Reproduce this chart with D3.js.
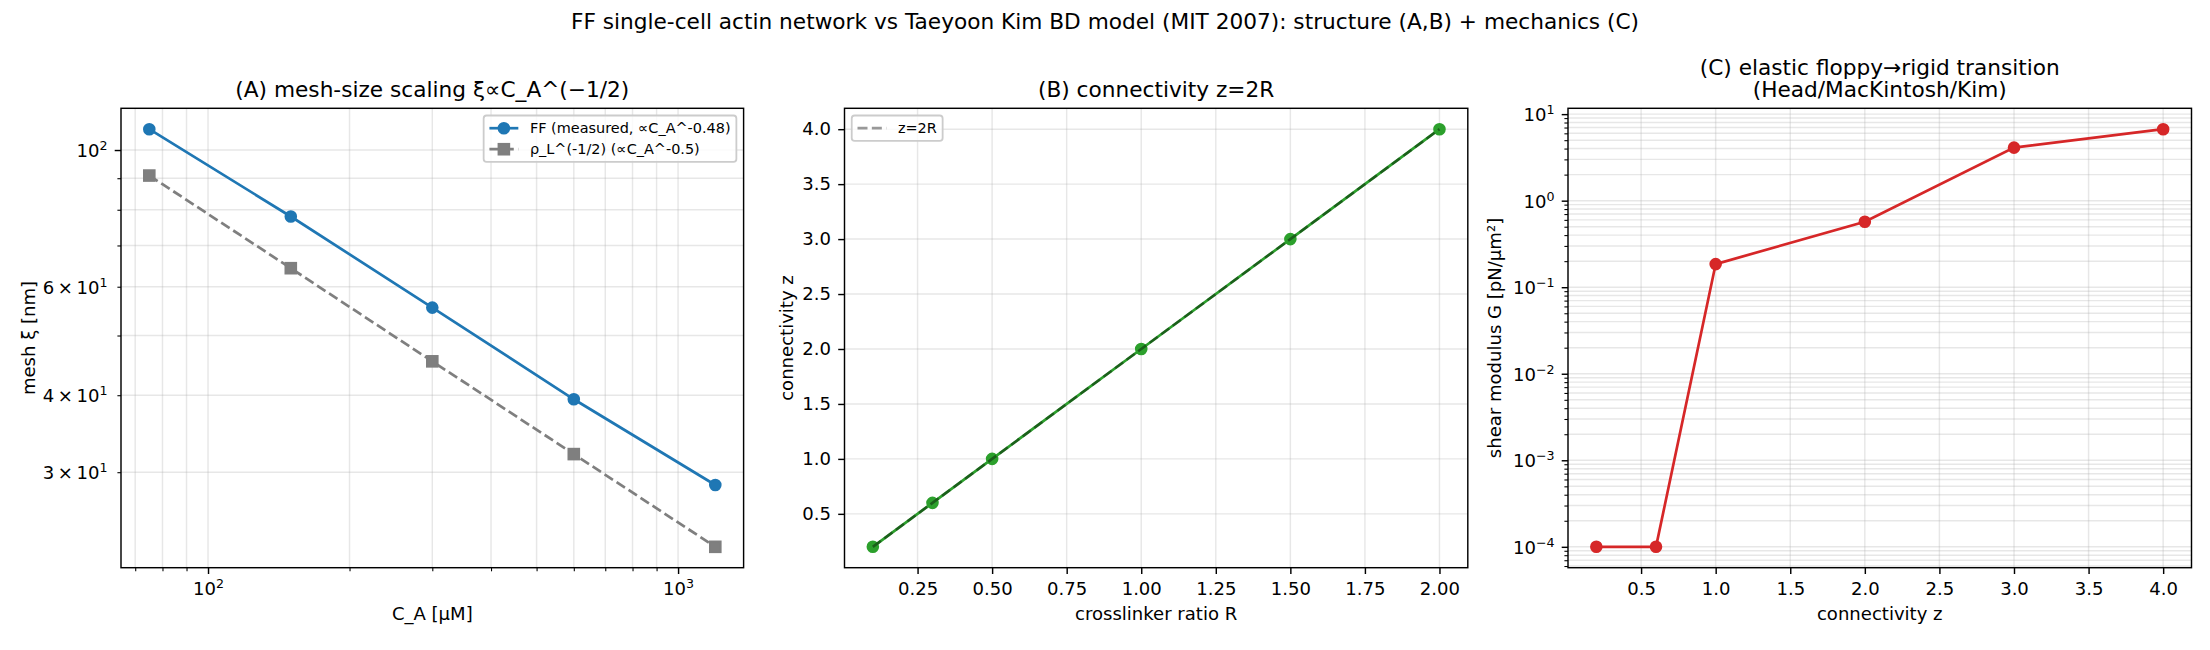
<!DOCTYPE html>
<html><head><meta charset="utf-8">
<script src="https://cdn.jsdelivr.net/npm/d3@7"></script>
<style>
body{margin:0;background:#fff;}
svg{font-family:"DejaVu Sans",sans-serif;}
</style></head><body>
<svg id="c" width="2210" height="650" xmlns="http://www.w3.org/2000/svg"></svg>
<script>
// ---------------- data ----------------
const CA_uM   = [75, 150, 300, 600, 1200];
const xi_FF   = [108.1, 78.0, 55.5, 39.4, 28.6];
const xi_rho  = [90.9, 64.3, 45.4, 32.1, 22.7];
const R_ratio = [0.1, 0.3, 0.5, 1.0, 1.5, 2.0];
const z_B     = [0.2, 0.6, 1.0, 2.0, 3.0, 4.0];
const z_C     = [0.2, 0.6, 1.0, 2.0, 3.0, 4.0];
const G_shear = [1e-4, 1e-4, 0.185, 0.57, 4.1, 6.7];

// tick values
const A_xMajor = [100, 1000];
const A_xMinor = [70, 80, 90, 200, 300, 400, 500, 600, 700, 800, 900];
const A_yMajor = [100];
const A_yMinor = [30, 40, 50, 60, 70, 80, 90];
const A_yMinorLabeled = [30, 40, 60];
const B_xTicks = [0.25, 0.5, 0.75, 1.0, 1.25, 1.5, 1.75, 2.0];
const B_yTicks = [0.5, 1.0, 1.5, 2.0, 2.5, 3.0, 3.5, 4.0];
const C_xTicks = [0.5, 1.0, 1.5, 2.0, 2.5, 3.0, 3.5, 4.0];
const C_yMajor = [1e-4, 1e-3, 1e-2, 1e-1, 1e0, 1e1];
const C_decades = [-5, -4, -3, -2, -1, 0, 1];
const minorMult = [2, 3, 4, 5, 6, 7, 8, 9];

// text
const supTitle = "FF single-cell actin network vs Taeyoon Kim BD model (MIT 2007): structure (A,B) + mechanics (C)";
const titleA = ["(A) mesh-size scaling ξ∝C_A^(\u22121/2)"];
const titleB = ["(B) connectivity z=2R"];
const titleC = ["(C) elastic floppy\u2192rigid transition", "(Head/MacKintosh/Kim)"];
const legA = ["FF (measured, ∝C_A^-0.48)", "ρ_L^(-1/2) (∝C_A^-0.5)"];
const legB = ["z=2R"];

// ---------------- style ----------------
const FS_TICK = 18.06, FS_LAB = 18.06, FS_TITLE = 21.67, FS_LEG = 14.44;
const TOP = 108.3, BOT = 567.7;
const C0 = "#1f77b4", C7 = "#7f7f7f", C2 = "#2ca02c", C3 = "#d62728";
const LW = 2.7, MR = 5.4, MEW = 1.8, DASH = "10,4.33";
const GRID = "#b0b0b0", GRID_OP = 0.3;

const svg = d3.select("#c");

function logPad(vals){ const l = vals.map(Math.log10); const mn = d3.min(l), mx = d3.max(l), m = 0.05*(mx-mn); return [10**(mn-m), 10**(mx+m)]; }
function linPad(vals){ const mn = d3.min(vals), mx = d3.max(vals), m = 0.05*(mx-mn); return [mn-m, mx+m]; }

function sci(sel, mant, exp){
  sel.text(null);
  if (mant !== 1) sel.append("tspan").text(mant + "\u2009×\u2009");
  sel.append("tspan").text("10");
  sel.append("tspan").attr("font-size", "0.7em").attr("dy", "-0.55em").text(exp < 0 ? "\u2212" + (-exp) : String(exp));
}
function decomp(v){ const e = Math.floor(Math.log10(v) + 1e-9); const m = Math.round(v / 10**e); return [m, e]; }

function grid(g, x, y, xs, ys){
  const gg = g.append("g");
  gg.selectAll(".gx").data(xs).join("line")
    .attr("x1", d => x(d)).attr("x2", d => x(d)).attr("y1", y.range()[0]).attr("y2", y.range()[1])
    .attr("stroke", GRID).attr("stroke-opacity", GRID_OP).attr("stroke-width", 1.44);
  gg.selectAll(".gy").data(ys).join("line")
    .attr("y1", d => y(d)).attr("y2", d => y(d)).attr("x1", x.range()[0]).attr("x2", x.range()[1])
    .attr("stroke", GRID).attr("stroke-opacity", GRID_OP).attr("stroke-width", 1.44);
}

function styleAxis(a, w){
  a.select(".domain").remove();
  a.selectAll(".tick line").attr("stroke", "#000").attr("stroke-width", w);
  a.selectAll(".tick text").attr("fill", "#000").attr("font-size", FS_TICK).attr("font-family", "DejaVu Sans");
}

function xAxis(g, x, major, minor, fmt, sciFmt){
  const a = g.append("g").attr("transform", `translate(0,${BOT})`)
    .call(d3.axisBottom(x).tickValues(major).tickSize(6.3).tickPadding(8.2).tickFormat(sciFmt ? (() => "") : fmt));
  styleAxis(a, 1.44);
  if (sciFmt) a.selectAll(".tick text").each(function(d){ const [m,e] = decomp(d); sci(d3.select(this), m, e); });
  if (minor && minor.length){
    const b = g.append("g").attr("transform", `translate(0,${BOT})`)
      .call(d3.axisBottom(x).tickValues(minor).tickSize(3.6).tickFormat(() => ""));
    styleAxis(b, 1.08);
  }
}
function yAxis(g, y, x0, major, minor, fmt, sciFmt, minorLabeled){
  const a = g.append("g").attr("transform", `translate(${x0},0)`)
    .call(d3.axisLeft(y).tickValues(major).tickSize(6.3).tickPadding(7.2).tickFormat(sciFmt ? (() => "") : fmt));
  styleAxis(a, 1.44);
  if (sciFmt) a.selectAll(".tick text").attr("dy", "0.36em").each(function(d){ const [m,e] = decomp(d); sci(d3.select(this), m, e); });
  if (minor && minor.length){
    const b = g.append("g").attr("transform", `translate(${x0},0)`)
      .call(d3.axisLeft(y).tickValues(minor).tickSize(3.6).tickPadding(9.9).tickFormat(() => ""));
    styleAxis(b, 1.08);
    if (minorLabeled) b.selectAll(".tick text").attr("dy", "0.36em").each(function(d){
      if (minorLabeled.includes(d)) { const [m,e] = decomp(d); sci(d3.select(this), m, e); }
    });
  }
}

function frame(g, x0, x1){
  g.append("rect").attr("x", x0).attr("y", TOP).attr("width", x1-x0).attr("height", BOT-TOP)
    .attr("fill", "none").attr("stroke", "#000").attr("stroke-width", 1.44);
}
function titles(g, x0, x1, lines){
  const cx = (x0+x1)/2;
  lines.forEach((t, i) => {
    g.append("text").attr("x", cx).attr("y", 97.3 - (lines.length-1-i)*22.7)
      .attr("text-anchor", "middle").attr("font-size", FS_TITLE).text(t);
  });
}
function xLabel(g, x0, x1, t){
  g.append("text").attr("x", (x0+x1)/2).attr("y", 620).attr("text-anchor", "middle").attr("font-size", FS_LAB).text(t);
}
function yLabel(g, cx, t){
  g.append("text").attr("transform", `translate(${cx},${(TOP+BOT)/2}) rotate(-90)`)
    .attr("text-anchor", "middle").attr("dominant-baseline", "central").attr("font-size", FS_LAB).text(t);
}
function markers(g, pts, color, shape){
  if (shape === "s"){
    g.selectAll(null).data(pts).join("rect")
      .attr("x", d => d[0]-MR).attr("y", d => d[1]-MR).attr("width", 2*MR).attr("height", 2*MR)
      .attr("fill", color).attr("stroke", color).attr("stroke-width", MEW);
  } else {
    g.selectAll(null).data(pts).join("circle")
      .attr("cx", d => d[0]).attr("cy", d => d[1]).attr("r", MR)
      .attr("fill", color).attr("stroke", color).attr("stroke-width", MEW);
  }
}

function legend(g, anchorX, side, entries){
  const pad = 5.78, hl = 28.9, htp = 11.55, ls = 7.22, rh = 13.8;
  const lg = g.append("g");
  const box = lg.append("rect");
  const texts = entries.map(e => lg.append("text").attr("font-size", FS_LEG).text(e.label));
  const tw = d3.max(texts, t => t.node().getComputedTextLength());
  const W = 2*pad + hl + htp + tw, H = 2*pad + entries.length*rh + (entries.length-1)*ls;
  const bx = side === "right" ? anchorX - W : anchorX, by = TOP + 7.22;
  box.attr("x", bx).attr("y", by).attr("width", W).attr("height", H).attr("rx", 2.9)
    .attr("fill", "#fff").attr("fill-opacity", 0.8).attr("stroke", "#cccccc").attr("stroke-width", 1.8);
  entries.forEach((e, i) => {
    const cy = by + pad + rh/2 + i*(rh+ls);
    const hx = bx + pad;
    lg.append("line").attr("x1", hx).attr("x2", hx+hl).attr("y1", cy).attr("y2", cy)
      .attr("stroke", e.color).attr("stroke-width", LW).attr("stroke-opacity", e.op || 1)
      .attr("stroke-dasharray", e.dash || null);
    if (e.marker) markers(lg, [[hx+hl/2, cy]], e.color, e.marker);
    texts[i].attr("x", hx+hl+htp).attr("y", cy + 5.0);
  });
}

// suptitle
svg.append("text").attr("x", 1105).attr("y", 29.4).attr("text-anchor", "middle").attr("font-size", FS_TITLE).text(supTitle);

// ---------------- Panel A ----------------
{
  const x0 = 121, x1 = 743.6;
  const g = svg.append("g");
  const x = d3.scaleLog().domain(logPad(CA_uM)).range([x0, x1]);
  const y = d3.scaleLog().domain(logPad(xi_FF.concat(xi_rho))).range([BOT, TOP]);
  grid(g, x, y, A_xMajor.concat(A_xMinor), A_yMajor.concat(A_yMinor));
  const line = d3.line().x(d => x(d[0])).y(d => y(d[1]));
  const pF = CA_uM.map((c, i) => [c, xi_FF[i]]);
  const pR = CA_uM.map((c, i) => [c, xi_rho[i]]);
  g.append("path").attr("d", line(pF)).attr("fill", "none").attr("stroke", C0).attr("stroke-width", LW);
  markers(g, pF.map(d => [x(d[0]), y(d[1])]), C0, "o");
  g.append("path").attr("d", line(pR)).attr("fill", "none").attr("stroke", C7).attr("stroke-width", LW).attr("stroke-dasharray", DASH);
  markers(g, pR.map(d => [x(d[0]), y(d[1])]), C7, "s");
  frame(g, x0, x1);
  xAxis(g, x, A_xMajor, A_xMinor, null, true);
  yAxis(g, y, x0, A_yMajor, A_yMinor, null, true, A_yMinorLabeled);
  titles(g, x0, x1, titleA);
  xLabel(g, x0, x1, "C_A [μM]");
  yLabel(g, 28, "mesh ξ [nm]");
  legend(g, x1 - 7.22, "right", [
    {label: legA[0], color: C0, marker: "o"},
    {label: legA[1], color: C7, marker: "s", dash: DASH}
  ]);
}

// ---------------- Panel B ----------------
{
  const x0 = 844.5, x1 = 1467.8;
  const g = svg.append("g");
  const x = d3.scaleLinear().domain(linPad(R_ratio)).range([x0, x1]);
  const y = d3.scaleLinear().domain(linPad(z_B)).range([BOT, TOP]);
  grid(g, x, y, B_xTicks, B_yTicks);
  const line = d3.line().x(d => x(d[0])).y(d => y(d[1]));
  const p = R_ratio.map((r, i) => [r, z_B[i]]);
  g.append("path").attr("d", line(p)).attr("fill", "none").attr("stroke", C2).attr("stroke-width", LW);
  markers(g, p.map(d => [x(d[0]), y(d[1])]), C2, "o");
  g.append("path").attr("d", line(p)).attr("fill", "none").attr("stroke", "#000").attr("stroke-opacity", 0.4)
    .attr("stroke-width", LW).attr("stroke-dasharray", DASH);
  frame(g, x0, x1);
  xAxis(g, x, B_xTicks, null, d3.format(".2f"), false);
  yAxis(g, y, x0, B_yTicks, null, d3.format(".1f"), false, null);
  titles(g, x0, x1, titleB);
  xLabel(g, x0, x1, "crosslinker ratio R");
  yLabel(g, 786, "connectivity z");
  legend(g, x0 + 7.22, "left", [{label: legB[0], color: "#000", op: 0.4, dash: DASH}]);
}

// ---------------- Panel C ----------------
{
  const x0 = 1568, x1 = 2191.5;
  const g = svg.append("g");
  const x = d3.scaleLinear().domain(linPad(z_C)).range([x0, x1]);
  const y = d3.scaleLog().domain(logPad(G_shear)).range([BOT, TOP]);
  const dom = y.domain();
  const minors = [];
  C_decades.forEach(e => minorMult.forEach(m => { const v = m * 10**e; if (v >= dom[0] && v <= dom[1]) minors.push(v); }));
  grid(g, x, y, C_xTicks, C_yMajor.concat(minors));
  const line = d3.line().x(d => x(d[0])).y(d => y(d[1]));
  const p = z_C.map((z, i) => [z, G_shear[i]]);
  g.append("path").attr("d", line(p)).attr("fill", "none").attr("stroke", C3).attr("stroke-width", LW);
  markers(g, p.map(d => [x(d[0]), y(d[1])]), C3, "o");
  frame(g, x0, x1);
  xAxis(g, x, C_xTicks, null, d3.format(".1f"), false);
  yAxis(g, y, x0, C_yMajor, minors, null, true, null);
  titles(g, x0, x1, titleC);
  xLabel(g, x0, x1, "connectivity z");
  yLabel(g, 1494, "shear modulus G [pN/μm²]");
}
</script>
</body></html>
